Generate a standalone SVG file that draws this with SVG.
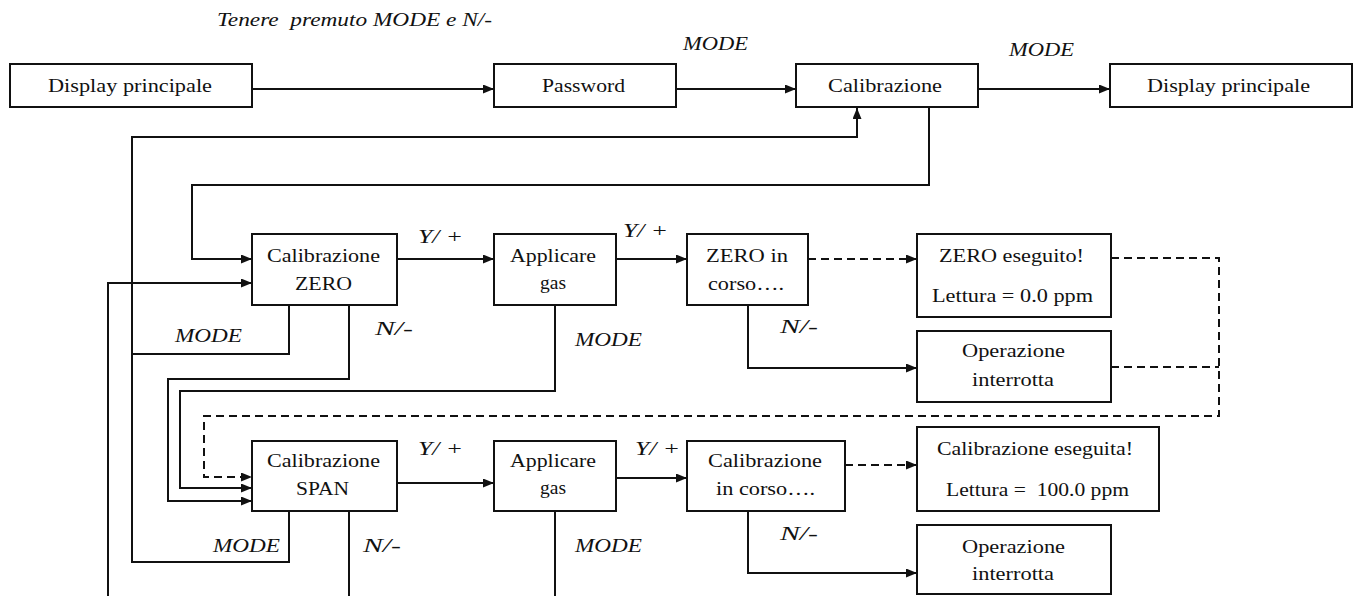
<svg xmlns="http://www.w3.org/2000/svg" width="1355" height="596" viewBox="0 0 1355 596">
<style>
.box{fill:#fff;stroke:#111;stroke-width:2}
.ln{fill:none;stroke:#111;stroke-width:2}
.ar{marker-end:url(#ah)}
.dash{stroke-dasharray:8 5}
.t{font-family:"Liberation Serif","Times New Roman",serif;font-size:19px;fill:#111}
.i{font-style:italic}
</style>
<defs>
<marker id="ah" markerUnits="userSpaceOnUse" markerWidth="11" markerHeight="9" refX="11" refY="4.5" orient="auto">
<path d="M0,0 L11,4.5 L0,9 z" fill="#111"/>
</marker>
</defs>
<rect width="1355" height="596" fill="#fff"/>

<g id="connectors">
<path class="ln ar" d="M252,89 H494"/>
<path class="ln ar" d="M676,89 H796"/>
<path class="ln ar" d="M978,89 H1110"/>
<path class="ln ar" d="M929,107 V185 H192 V259 H252"/>
<path class="ln ar" d="M289,511 V562 H132 V137 H857 V108"/>
<path class="ln" d="M289,305 V354 H132"/>
<path class="ln ar" d="M108,596 V283 H252"/>
<path class="ln ar" d="M349,305 V379 H168 V501 H252"/>
<path class="ln ar" d="M555,305 V391 H180 V488 H252"/>
<path class="ln dash ar" d="M1111,258 H1219 V416 H204 V477 H252"/>
<path class="ln dash" d="M1111,367 H1219"/>
<path class="ln ar" d="M397,259 H494"/>
<path class="ln ar" d="M616,259 H687"/>
<path class="ln dash ar" d="M808,259 H917"/>
<path class="ln ar" d="M748,305 V368 H917"/>
<path class="ln ar" d="M397,483 H494"/>
<path class="ln ar" d="M616,478 H687"/>
<path class="ln dash ar" d="M845,465 H917"/>
<path class="ln ar" d="M748,511 V573 H917"/>
<path class="ln" d="M349,511 V596"/>
<path class="ln" d="M555,511 V596"/>
</g>

<g id="labels">
<text class="t i" x="217" y="26" textLength="275" lengthAdjust="spacingAndGlyphs" xml:space="preserve">Tenere  premuto MODE e N/-</text>
<text class="t i" x="683" y="50" textLength="65" lengthAdjust="spacingAndGlyphs">MODE</text>
<text class="t i" x="1009" y="56" textLength="65" lengthAdjust="spacingAndGlyphs">MODE</text>
<text class="t i" x="418" y="243" textLength="45" lengthAdjust="spacingAndGlyphs">Y/ +</text>
<text class="t i" x="623" y="237" textLength="45" lengthAdjust="spacingAndGlyphs">Y/ +</text>
<text class="t i" x="175" y="342" textLength="67" lengthAdjust="spacingAndGlyphs">MODE</text>
<text class="t i" x="375" y="335" textLength="38" lengthAdjust="spacingAndGlyphs">N/-</text>
<text class="t i" x="575" y="346" textLength="67" lengthAdjust="spacingAndGlyphs">MODE</text>
<text class="t i" x="780" y="333" textLength="38" lengthAdjust="spacingAndGlyphs">N/-</text>
<text class="t i" x="418" y="455" textLength="45" lengthAdjust="spacingAndGlyphs">Y/ +</text>
<text class="t i" x="635" y="455" textLength="45" lengthAdjust="spacingAndGlyphs">Y/ +</text>
<text class="t i" x="213" y="552" textLength="67" lengthAdjust="spacingAndGlyphs">MODE</text>
<text class="t i" x="363" y="552" textLength="38" lengthAdjust="spacingAndGlyphs">N/-</text>
<text class="t i" x="575" y="552" textLength="67" lengthAdjust="spacingAndGlyphs">MODE</text>
<text class="t i" x="780" y="540" textLength="38" lengthAdjust="spacingAndGlyphs">N/-</text>
</g>

<g id="display1">
<rect class="box" x="10" y="64" width="242" height="43"/>
<text class="t" x="48" y="92" textLength="164" lengthAdjust="spacingAndGlyphs">Display principale</text>
</g>
<g id="password">
<rect class="box" x="494" y="64" width="182" height="43"/>
<text class="t" x="542" y="92" textLength="83" lengthAdjust="spacingAndGlyphs">Password</text>
</g>
<g id="calibrazione">
<rect class="box" x="796" y="64" width="182" height="43"/>
<text class="t" x="828" y="92" textLength="114" lengthAdjust="spacingAndGlyphs">Calibrazione</text>
</g>
<g id="display2">
<rect class="box" x="1110" y="64" width="242" height="43"/>
<text class="t" x="1147" y="92" textLength="163" lengthAdjust="spacingAndGlyphs">Display principale</text>
</g>

<g id="cal-zero">
<rect class="box" x="252" y="234" width="145" height="71"/>
<text class="t" x="267" y="262" textLength="113" lengthAdjust="spacingAndGlyphs">Calibrazione</text>
<text class="t" x="295" y="290" textLength="57" lengthAdjust="spacingAndGlyphs">ZERO</text>
</g>
<g id="gas1">
<rect class="box" x="494" y="234" width="122" height="71"/>
<text class="t" x="510" y="262" textLength="86" lengthAdjust="spacingAndGlyphs">Applicare</text>
<text class="t" x="540" y="289" textLength="26" lengthAdjust="spacingAndGlyphs">gas</text>
</g>
<g id="zero-corso">
<rect class="box" x="687" y="234" width="121" height="71"/>
<text class="t" x="706" y="262" textLength="82" lengthAdjust="spacingAndGlyphs">ZERO in</text>
<text class="t" x="708" y="290" textLength="76" lengthAdjust="spacingAndGlyphs">corso….</text>
</g>
<g id="zero-ok">
<rect class="box" x="917" y="234" width="194" height="83"/>
<text class="t" x="939" y="262" textLength="145" lengthAdjust="spacingAndGlyphs">ZERO eseguito!</text>
<text class="t" x="932" y="302" textLength="161" lengthAdjust="spacingAndGlyphs">Lettura = 0.0 ppm</text>
</g>
<g id="abort1">
<rect class="box" x="917" y="331" width="194" height="71"/>
<text class="t" x="962" y="357" textLength="103" lengthAdjust="spacingAndGlyphs">Operazione</text>
<text class="t" x="972" y="386" textLength="82" lengthAdjust="spacingAndGlyphs">interrotta</text>
</g>

<g id="cal-span">
<rect class="box" x="252" y="441" width="145" height="70"/>
<text class="t" x="267" y="467" textLength="113" lengthAdjust="spacingAndGlyphs">Calibrazione</text>
<text class="t" x="296" y="495" textLength="53" lengthAdjust="spacingAndGlyphs">SPAN</text>
</g>
<g id="gas2">
<rect class="box" x="494" y="441" width="122" height="70"/>
<text class="t" x="510" y="467" textLength="86" lengthAdjust="spacingAndGlyphs">Applicare</text>
<text class="t" x="540" y="494" textLength="26" lengthAdjust="spacingAndGlyphs">gas</text>
</g>
<g id="span-corso">
<rect class="box" x="687" y="441" width="158" height="70"/>
<text class="t" x="708" y="467" textLength="114" lengthAdjust="spacingAndGlyphs">Calibrazione</text>
<text class="t" x="716" y="495" textLength="99" lengthAdjust="spacingAndGlyphs">in corso….</text>
</g>
<g id="span-ok">
<rect class="box" x="917" y="427" width="242" height="84"/>
<text class="t" x="937" y="455" textLength="196" lengthAdjust="spacingAndGlyphs">Calibrazione eseguita!</text>
<text class="t" x="946" y="496" textLength="183" lengthAdjust="spacingAndGlyphs" xml:space="preserve">Lettura =  100.0 ppm</text>
</g>
<g id="abort2">
<rect class="box" x="917" y="525" width="194" height="69"/>
<text class="t" x="962" y="553" textLength="103" lengthAdjust="spacingAndGlyphs">Operazione</text>
<text class="t" x="972" y="580" textLength="82" lengthAdjust="spacingAndGlyphs">interrotta</text>
</g>
</svg>
